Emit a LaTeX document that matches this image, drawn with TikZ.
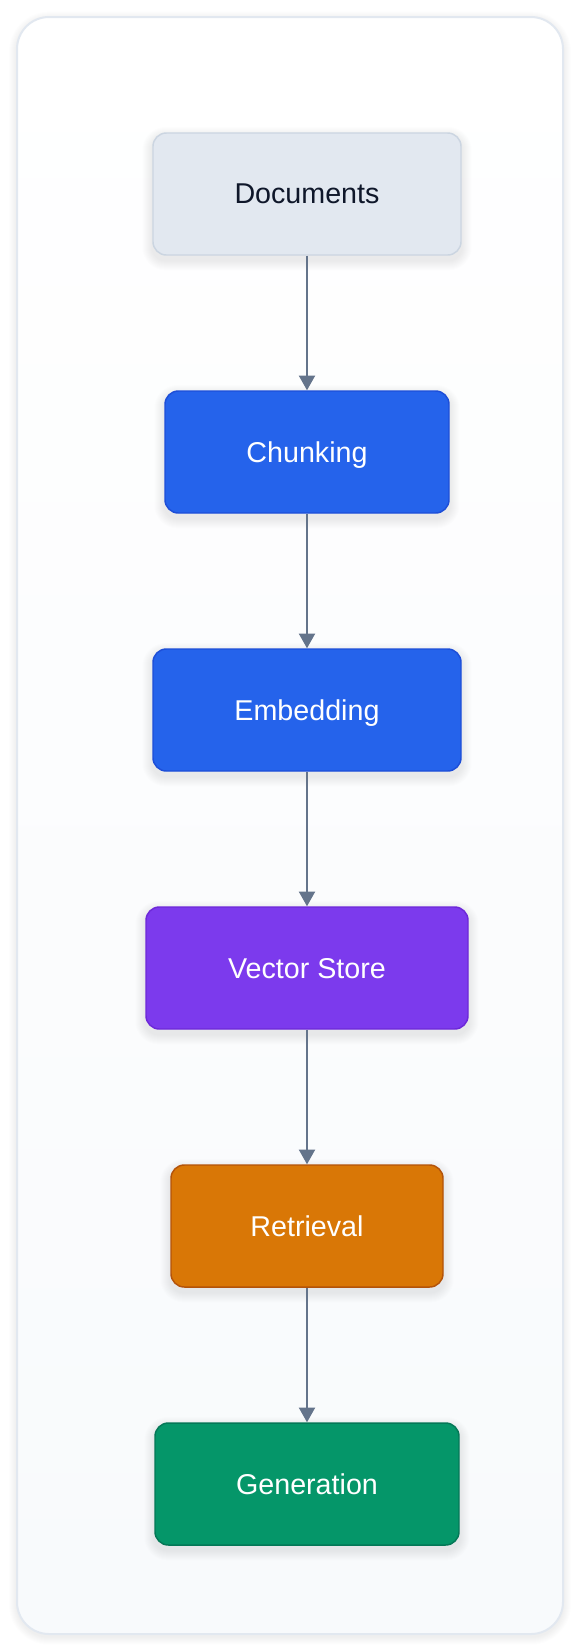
\documentclass[tikz,border=0pt]{standalone}
\usepackage{fontspec}
\setmainfont{Liberation Sans}
\usetikzlibrary{arrows.meta,backgrounds}
\definecolor{frameborder}{HTML}{E2E8F0}
\definecolor{framebottom}{HTML}{F8FAFC}
\definecolor{docfill}{HTML}{E2E8F0}
\definecolor{docborder}{HTML}{CBD5E1}
\definecolor{doctext}{HTML}{0F172A}
\definecolor{bluefill}{HTML}{2563EB}
\definecolor{blueborder}{HTML}{1D4ED8}
\definecolor{purplefill}{HTML}{7C3AED}
\definecolor{purpleborder}{HTML}{6D28D9}
\definecolor{orangefill}{HTML}{D97706}
\definecolor{orangeborder}{HTML}{B45309}
\definecolor{greenfill}{HTML}{059669}
\definecolor{greenborder}{HTML}{047857}
\definecolor{arrowcol}{HTML}{64748B}
\definecolor{shadowcol}{HTML}{0F172A}
\tikzset{
  stagebox/.style={rectangle, rounded corners=10pt, line width=1.1pt,
    minimum height=91.5pt, inner sep=0pt, text depth=0pt, font=\fontsize{21.5pt}{26pt}\selectfont,
    text=white},
  docbox/.style={stagebox, fill=docfill, draw=docborder, text=doctext},
  bluebox/.style={stagebox, fill=bluefill, draw=blueborder},
  purplebox/.style={stagebox, fill=purplefill, draw=purpleborder},
  orangebox/.style={stagebox, fill=orangefill, draw=orangeborder},
  greenbox/.style={stagebox, fill=greenfill, draw=greenborder},
  flow/.style={draw=arrowcol, line width=1.5pt, -{Triangle[width=12pt,length=11pt]}},
  softshadow/.style={fill=shadowcol, fill opacity=0.009}
}
\begin{document}
\begin{tikzpicture}[x=0.75pt, y=-0.75pt]
\useasboundingbox (0,0) rectangle (580,1650);
\node[docbox, minimum width=231pt] (docs) at (307,194) {Documents};
\node[bluebox, minimum width=213pt] (chunk) at (307,452) {Chunking};
\node[bluebox, minimum width=231pt] (embed) at (307,710) {Embedding};
\node[purplebox, minimum width=241.5pt] (store) at (307,968) {Vector Store};
\node[orangebox, minimum width=204pt] (retr) at (307,1226) {Retrieval};
\node[greenbox, minimum width=228pt] (gen) at (307,1484) {Generation};
\draw[flow] (docs.south) -- (chunk.north);
\draw[flow] (chunk.south) -- (embed.north);
\draw[flow] (embed.south) -- (store.north);
\draw[flow] (store.south) -- (retr.north);
\draw[flow] (retr.south) -- (gen.north);
\begin{scope}[on background layer]
\fill[white] (0,0) rectangle (580,1650);
\foreach \k in {1,...,8}{
  \fill[softshadow, rounded corners=24pt+\k*0.75pt]
    ([xshift=-\k*0.75pt, yshift=\k*0.75pt-2pt]17,17) rectangle ([xshift=\k*0.75pt, yshift=-\k*0.75pt-2pt]563,1634);
}
\draw[frameborder, line width=1.5pt, rounded corners=24pt, top color=white, bottom color=framebottom]
  (17,17) rectangle (563,1634);
\foreach \n in {docs,chunk,embed,store,retr,gen}{
  \foreach \k in {1,...,10}{
    \fill[softshadow, rounded corners=10pt+\k*0.75pt]
      ([xshift=-\k*0.75pt, yshift=\k*0.75pt-3.5pt]\n.north west) rectangle ([xshift=\k*0.75pt, yshift=-\k*0.75pt-3.5pt]\n.south east);
  }
}
\end{scope}
\end{tikzpicture}
\end{document}
